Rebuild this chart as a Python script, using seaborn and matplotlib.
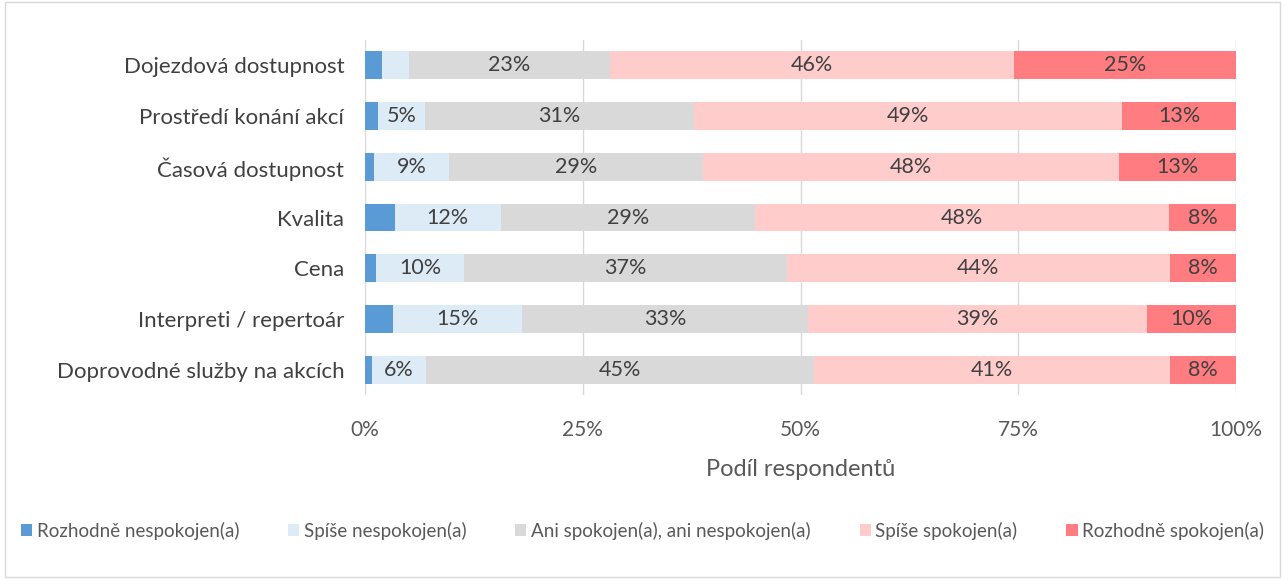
import numpy as np
import pandas as pd
import matplotlib
matplotlib.use("Agg")
import matplotlib.pyplot as plt
import seaborn as sns

categories = ["Dojezdová dostupnost", "Prostředí konání akcí", "Časová dostupnost",
              "Kvalita", "Cena", "Interpreti / repertoár", "Doprovodné služby na akcích"]
series_names = ["Rozhodně nespokojen(a)", "Spíše nespokojen(a)",
                "Ani spokojen(a), ani nespokojen(a)", "Spíše spokojen(a)", "Rozhodně spokojen(a)"]
rozhodne_nespokojen = [1.9, 1.5, 1.0, 3.4, 1.3, 3.2, 0.8]
spise_nespokojen = [3.1, 5.4, 8.7, 12.2, 10.1, 14.8, 6.2]
ani_ani = [23.1, 30.9, 29.1, 29.2, 37.0, 32.9, 44.5]
spise_spokojen = [46.4, 49.1, 47.8, 47.5, 44.0, 38.9, 40.9]
rozhodne_spokojen = [25.5, 13.1, 13.4, 7.7, 7.6, 10.2, 7.6]
labels = {
    1: ["", "5%", "9%", "12%", "10%", "15%", "6%"],
    2: ["23%", "31%", "29%", "29%", "37%", "33%", "45%"],
    3: ["46%", "49%", "48%", "48%", "44%", "39%", "41%"],
    4: ["25%", "13%", "13%", "8%", "8%", "10%", "8%"],
}
colors = ["#5B9BD5", "#DDEBF7", "#D9D9D9", "#FFCCCC", "#FF7C80"]
xticks = [0, 25, 50, 75, 100]
xticklabels = ["0%", "25%", "50%", "75%", "100%"]

sns.set_theme(style="white")
plt.rcParams['font.family'] = ['Lato', 'DejaVu Sans']

vals = np.array([rozhodne_nespokojen, spise_nespokojen, ani_ani, spise_spokojen, rozhodne_spokojen])
cum = np.cumsum(vals, axis=0)
cum = cum / cum[-1] * 100

fig = plt.figure(figsize=(12.85, 5.79), dpi=100)
ax = fig.add_axes([365/1285, 1 - 395/579, (1236-365)/1285, 355/579])

for i in range(4, -1, -1):
    df = pd.DataFrame({"cat": categories, "val": cum[i]})
    sns.barplot(data=df, x="val", y="cat", orient="h", color=colors[i],
                saturation=1, width=0.55, linewidth=0, ax=ax, label=series_names[i], zorder=3)

for i, labs in labels.items():
    for j, t in enumerate(labs):
        if t:
            start = cum[i-1][j]
            mid = (start + cum[i][j]) / 2
            ax.text(mid, j, t, ha="center", va="center", fontsize=15.5, color="#404040", zorder=5)

ax.set_xlim(0, 100)
ax.set_ylim(6.5, -0.5)
ax.set_xticks(xticks)
ax.set_xticklabels(xticklabels, fontsize=15, color="#595959")
ax.tick_params(axis="y", labelsize=16, labelcolor="#404040", length=0, pad=15)
ax.tick_params(axis="x", length=0, pad=18)
ax.set_ylabel("")
ax.set_xlabel("Podíl respondentů", fontsize=17, color="#595959", labelpad=14)
ax.xaxis.grid(True, color="#D9D9D9", linewidth=1, zorder=0)
for s in ax.spines.values():
    s.set_visible(False)

handles, labs = ax.get_legend_handles_labels()
order = [series_names.index(l) for l in labs]
hl = sorted(zip(order, handles, labs))
ax.legend([h for _, h, _ in hl], [l for _, _, l in hl], loc="center",
          bbox_to_anchor=(0.5, 1 - 531/579), bbox_transform=fig.transFigure,
          ncol=5, frameon=False, fontsize=13.5, handlelength=0.6, handleheight=0.6,
          handletextpad=0.25, columnspacing=2.6, labelcolor="#595959")

fig.patches.append(plt.Rectangle((0.004, 0.004), 0.992, 0.992, transform=fig.transFigure,
                                 fill=False, edgecolor="#D9D9D9", linewidth=1))
fig.savefig("out.png", dpi=100)
